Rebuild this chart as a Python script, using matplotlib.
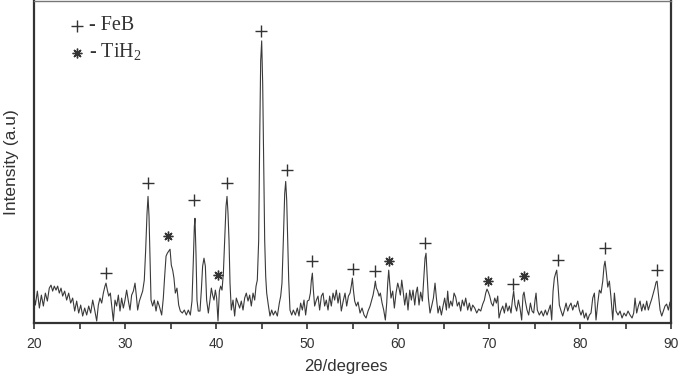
import matplotlib
matplotlib.use("Agg")
import matplotlib.pyplot as plt

plt.rcParams["mathtext.fontset"] = "custom"
plt.rcParams["mathtext.rm"] = "Liberation Serif"

# XRD pattern (2theta in degrees, intensity in a.u.)
two_theta = [
    20.00, 20.15, 20.37, 20.59, 20.81, 21.03, 21.25, 21.47, 21.68, 21.87,
    22.05, 22.23, 22.42, 22.60, 22.78, 22.97, 23.15, 23.37, 23.59, 23.81,
    24.03, 24.25, 24.47, 24.69, 24.91, 25.13, 25.35, 25.57, 25.79, 26.01,
    26.23, 26.45, 26.67, 26.89, 27.07, 27.25, 27.44, 27.62, 27.80, 27.91,
    28.06, 28.21, 28.39, 28.57, 28.72, 28.90, 29.08, 29.27, 29.45, 29.63,
    29.82, 30.00, 30.18, 30.37, 30.55, 30.73, 30.92, 31.10, 31.25, 31.39,
    31.58, 31.76, 31.94, 32.12, 32.27, 32.42, 32.53, 32.64, 32.75, 32.86,
    33.04, 33.22, 33.41, 33.59, 33.77, 34.03, 34.21, 34.36, 34.51, 34.65,
    34.80, 34.95, 35.09, 35.24, 35.38, 35.53, 35.71, 35.90, 36.08, 36.30,
    36.52, 36.74, 36.96, 37.18, 37.36, 37.51, 37.62, 37.69, 37.80, 37.91,
    38.05, 38.24, 38.39, 38.53, 38.68, 38.83, 38.97, 39.16, 39.34, 39.49,
    39.63, 39.78, 39.93, 40.07, 40.22, 40.37, 40.51, 40.66, 40.81, 40.95,
    41.10, 41.21, 41.32, 41.43, 41.54, 41.68, 41.87, 42.05, 42.23, 42.42,
    42.60, 42.78, 42.97, 43.15, 43.33, 43.52, 43.70, 43.88, 44.07, 44.25,
    44.40, 44.54, 44.69, 44.80, 44.91, 45.02, 45.13, 45.24, 45.35, 45.46,
    45.57, 45.75, 45.93, 46.12, 46.30, 46.52, 46.74, 46.96, 47.11, 47.25,
    47.40, 47.55, 47.66, 47.77, 47.88, 47.99, 48.13, 48.32, 48.50, 48.72,
    48.94, 49.12, 49.30, 49.49, 49.67, 49.85, 50.04, 50.22, 50.37, 50.48,
    50.59, 50.70, 50.84, 51.03, 51.21, 51.39, 51.58, 51.76, 51.94, 52.12,
    52.31, 52.49, 52.67, 52.86, 53.04, 53.22, 53.41, 53.59, 53.77, 54.00,
    54.18, 54.36, 54.55, 54.73, 54.88, 54.99, 55.10, 55.24, 55.42, 55.61,
    55.83, 56.05, 56.27, 56.49, 56.71, 56.93, 57.11, 57.26, 57.40, 57.51,
    57.62, 57.77, 57.92, 58.06, 58.25, 58.43, 58.61, 58.76, 58.87, 58.98,
    59.09, 59.23, 59.42, 59.60, 59.78, 59.97, 60.11, 60.26, 60.41, 60.55,
    60.74, 60.92, 61.10, 61.29, 61.47, 61.65, 61.84, 61.98, 62.13, 62.31,
    62.49, 62.68, 62.82, 62.97, 63.08, 63.19, 63.34, 63.52, 63.70, 63.89,
    64.07, 64.22, 64.40, 64.58, 64.77, 64.95, 65.13, 65.32, 65.46, 65.61,
    65.79, 65.97, 66.16, 66.34, 66.52, 66.71, 66.89, 67.07, 67.26, 67.44,
    67.66, 67.84, 68.03, 68.21, 68.43, 68.65, 68.87, 69.09, 69.31, 69.49,
    69.64, 69.78, 69.93, 70.08, 70.26, 70.44, 70.63, 70.81, 70.96, 71.10,
    71.29, 71.51, 71.69, 71.87, 72.06, 72.24, 72.42, 72.57, 72.71, 72.86,
    73.04, 73.23, 73.41, 73.59, 73.74, 73.85, 73.99, 74.18, 74.36, 74.55,
    74.73, 74.91, 75.06, 75.17, 75.31, 75.53, 75.76, 75.97, 76.19, 76.38,
    76.56, 76.74, 76.89, 77.04, 77.18, 77.33, 77.44, 77.59, 77.73, 77.92,
    78.10, 78.28, 78.47, 78.65, 78.83, 79.01, 79.20, 79.38, 79.56, 79.75,
    79.93, 80.11, 80.30, 80.48, 80.66, 80.85, 81.03, 81.21, 81.40, 81.58,
    81.76, 81.95, 82.13, 82.31, 82.50, 82.64, 82.75, 82.90, 83.05, 83.23,
    83.41, 83.60, 83.78, 83.96, 84.18, 84.40, 84.62, 84.84, 85.06, 85.28,
    85.50, 85.72, 85.90, 86.05, 86.23, 86.41, 86.60, 86.78, 86.96, 87.15,
    87.33, 87.51, 87.70, 87.88, 88.06, 88.21, 88.36, 88.47, 88.61, 88.80,
    88.98, 89.16, 89.34, 89.52, 89.71, 89.89, 90.00,
]
intensity = [
    27, 18, 32, 15, 28, 17, 30, 22, 35, 38,
    32, 37, 33, 37, 30, 35, 27, 32, 23, 30,
    20, 25, 12, 22, 10, 18, 7, 15, 8, 17,
    10, 23, 13, 2, 18, 25, 20, 30, 37, 40,
    33, 27, 30, 15, 2, 23, 17, 28, 12, 25,
    15, 23, 33, 22, 13, 28, 32, 40, 27, 13,
    22, 27, 32, 43, 73, 110, 127, 107, 63, 23,
    17, 23, 12, 22, 17, 8, 25, 47, 67, 70,
    72, 74, 58, 53, 45, 30, 35, 18, 12, 10,
    13, 8, 13, 8, 22, 63, 97, 105, 70, 23,
    12, 12, 33, 57, 65, 57, 23, 10, 23, 35,
    28, 23, 33, 25, 2, 32, 37, 33, 50, 83,
    117, 127, 110, 83, 40, 13, 23, 7, 25, 20,
    15, 22, 13, 25, 30, 22, 28, 17, 30, 23,
    37, 43, 83, 183, 263, 283, 240, 157, 83, 47,
    30, 18, 7, 13, 8, 12, 7, 20, 27, 40,
    83, 130, 142, 123, 83, 43, 13, 8, 13, 8,
    15, 7, 20, 13, 23, 8, 22, 23, 30, 43,
    50, 33, 17, 23, 27, 13, 27, 30, 17, 23,
    13, 27, 17, 30, 23, 33, 20, 30, 12, 23,
    30, 17, 27, 30, 38, 45, 33, 22, 17, 21,
    10, 15, 8, 5, 12, 17, 23, 28, 35, 42,
    35, 32, 27, 30, 20, 13, 3, 20, 40, 53,
    40, 25, 32, 15, 30, 40, 35, 28, 43, 33,
    18, 30, 13, 33, 23, 33, 18, 30, 36, 18,
    31, 22, 42, 65, 70, 50, 25, 10, 17, 25,
    40, 25, 10, 17, 8, 17, 25, 13, 32, 15,
    22, 17, 30, 26, 17, 21, 12, 23, 17, 25,
    13, 20, 12, 18, 15, 10, 14, 12, 19, 23,
    30, 34, 31, 27, 20, 17, 25, 20, 27, 5,
    12, 17, 10, 20, 12, 17, 10, 23, 32, 18,
    12, 23, 15, 3, 28, 31, 22, 13, 8, 20,
    12, 10, 23, 30, 13, 8, 12, 7, 13, 8,
    13, 18, 3, 32, 45, 50, 53, 37, 18, 12,
    7, 13, 20, 12, 17, 20, 13, 18, 16, 22,
    13, 8, 13, 5, 10, 3, 8, 10, 25, 30,
    3, 20, 33, 30, 42, 57, 62, 50, 36, 42,
    25, 3, 30, 12, 8, 12, 5, 10, 7, 12,
    8, 5, 10, 25, 10, 17, 22, 12, 19, 13,
    22, 13, 19, 24, 30, 35, 41, 42, 30, 13,
    7, 12, 17, 19, 13, 21, 18,
]

# phase markers
feb_pos = [27.91, 32.56, 37.58, 41.25, 44.95, 47.77, 50.59, 55.02, 57.51,
           62.97, 72.68, 77.62, 82.75, 88.50]
feb_h = [50, 140, 123, 140, 293, 153, 62, 54, 52, 80, 39, 63, 75, 53]
tih2_pos = [34.76, 40.26, 59.05, 69.93, 73.89]
tih2_h = [87, 48, 62, 42, 47]

ink = "#333333"
star = (8, 2, 0)

fig = plt.figure(figsize=(6.91, 3.75), dpi=100)
ax = fig.add_axes([34 / 691, 52 / 375, 637 / 691, 322 / 375])

ax.plot(two_theta, intensity, color="#3a3a3a", lw=0.8)
ax.plot(feb_pos, feb_h, ls="none", marker="+", ms=8, mew=1.0, color=ink)
ax.plot(tih2_pos, tih2_h, ls="none", marker=star, ms=7, mew=1.0, color=ink)

ax.set_xlim(20, 90)
ax.set_ylim(0, 323)
ax.set_xticks([20, 30, 40, 50, 60, 70, 80, 90])
ax.set_xticks([25, 35, 45, 55, 65, 75, 85], minor=True)
ax.set_yticks([])
ax.tick_params(axis="x", which="both", direction="out", length=4, width=1.2,
               colors=ink, labelsize=10, pad=6)
for lab in ax.get_xticklabels():
    lab.set_fontfamily("Liberation Sans")
for side in ["left", "right", "bottom"]:
    ax.spines[side].set_linewidth(1.6)
    ax.spines[side].set_color(ink)
ax.spines["top"].set_linewidth(1.0)
ax.spines["top"].set_color("#777777")

ax.set_ylabel("Intensity (a.u)", fontsize=12.5, family="Liberation Sans",
              color=ink, labelpad=11)
fig.text(0.5, 0.022, "2θ/degrees", fontsize=12, family="Liberation Sans",
         color=ink, ha="center", va="center")

# legend-like labels in the upper left corner
ax.plot([24.7], [298], ls="none", marker="+", ms=8, mew=1.0, color=ink)
ax.text(26.0, 298, "- FeB", fontsize=14.5, family="Liberation Serif",
        color=ink, va="center")
ax.plot([24.7], [271], ls="none", marker=star, ms=7, mew=1.0, color=ink)
ax.text(26.0, 271, r"- TiH$_\mathrm{2}$", fontsize=14.5, family="Liberation Serif",
        color=ink, va="center")

fig.savefig("out.png", dpi=100)
